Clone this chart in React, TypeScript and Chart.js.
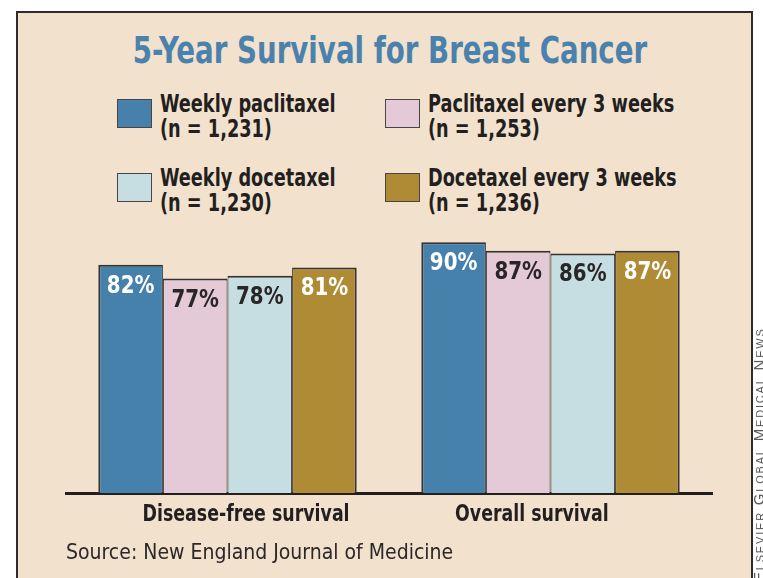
import React, { useEffect, useRef } from "react";
import { Chart, registerables } from "chart.js";

Chart.register(...registerables);

// ---- data ----
const categories = ["Disease-free survival", "Overall survival"];
const seriesNames = [
  "Weekly paclitaxel",
  "Paclitaxel every 3 weeks",
  "Weekly docetaxel",
  "Docetaxel every 3 weeks",
];
const seriesCounts = ["(n = 1,231)", "(n = 1,253)", "(n = 1,230)", "(n = 1,236)"];
const weeklyPaclitaxel = [82, 90];
const paclitaxelEvery3Weeks = [77, 87];
const weeklyDocetaxel = [78, 86];
const docetaxelEvery3Weeks = [81, 87];
const titleText = "5-Year Survival for Breast Cancer";
const sourceText = "Source: New England Journal of Medicine";
const creditText = "Elsevier Global Medical News";

// ---- style ----
const seriesColors = ["#4581ab", "#e4c9d7", "#c6dee1", "#b08b36"];
const valueLabelColors = ["#ffffff", "#2a2526", "#2a2526", "#ffffff"];
const FONT = "'DejaVu Sans Condensed', 'Liberation Sans Narrow', sans-serif";
const INK = "#231f20";

function fillCondensed(ctx: CanvasRenderingContext2D, text: string, x: number, y: number, squeeze: number) {
  const w = ctx.measureText(text).width;
  ctx.fillText(text, x, y, w * squeeze);
}

const valueLabelPlugin = {
  id: "valueLabels",
  afterDatasetsDraw(chart: any) {
    const { ctx } = chart;
    ctx.save();
    ctx.font = `bold 24px ${FONT}`;
    ctx.textAlign = "center";
    ctx.textBaseline = "alphabetic";
    chart.data.datasets.forEach((ds: any, di: number) => {
      const meta = chart.getDatasetMeta(di);
      meta.data.forEach((el: any, i: number) => {
        ctx.fillStyle = valueLabelColors[di];
        fillCondensed(ctx, ds.data[i] + "%", el.x, el.y + 28, 0.92);
      });
    });
    ctx.restore();
  },
};

const categoryLabelPlugin = {
  id: "categoryLabels",
  afterDraw(chart: any) {
    const { ctx, chartArea } = chart;
    const x = chart.scales.x;
    const mid = (chartArea.left + chartArea.right) / 2;
    ctx.save();
    ctx.font = `bold 23px ${FONT}`;
    ctx.fillStyle = INK;
    ctx.textAlign = "center";
    ctx.textBaseline = "alphabetic";
    (chart.data.labels as string[]).forEach((lab, i) => {
      const px = x.getPixelForValue(i);
      const cx = px + (mid - px) * 0.115;
      fillCondensed(ctx, lab, cx, chartArea.bottom + 28, 0.84);
    });
    ctx.restore();
  },
};

export default function App() {
  const canvasRef = useRef<HTMLCanvasElement | null>(null);

  useEffect(() => {
    if (!canvasRef.current) return;
    const seriesData = [weeklyPaclitaxel, paclitaxelEvery3Weeks, weeklyDocetaxel, docetaxelEvery3Weeks];
    const chart = new Chart(canvasRef.current, {
      type: "bar",
      data: {
        labels: categories,
        datasets: seriesNames.map((name, i) => ({
          label: name,
          data: seriesData[i],
          backgroundColor: seriesColors[i],
          borderColor: "#363132",
          borderWidth: {
            top: 2,
            left: i === 0 ? 2 : 1,
            right: i === seriesNames.length - 1 ? 2 : 1,
            bottom: 0,
          },
          borderSkipped: false,
          categoryPercentage: 0.8,
          barPercentage: 1.0,
        })),
      },
      options: {
        animation: false,
        responsive: false,
        maintainAspectRatio: false,
        layout: { padding: { left: 66, right: 51, top: 214.5, bottom: 85 } },
        plugins: {
          legend: { display: false },
          title: { display: false },
          tooltip: { enabled: false },
        },
        scales: {
          x: {
            display: true,
            grid: { display: false, drawTicks: false },
            ticks: { display: false },
            border: { display: true, color: "#231f20", width: 3 },
          },
          y: {
            display: false,
            min: 0,
            max: 100,
          },
        },
      },
      plugins: [valueLabelPlugin, categoryLabelPlugin],
    });
    return () => chart.destroy();
  }, []);

  const legendCols = [
    { swatch: 117, text: 160 },
    { swatch: 385, text: 428 },
  ];
  const legendRows = [
    { swatch: 99, text: 92 },
    { swatch: 173, text: 166 },
  ];

  return (
    <div
      style={{
        position: "absolute",
        left: 0,
        top: 0,
        width: 763,
        height: 578,
        overflow: "hidden",
        background: "#ffffff",
        fontFamily: FONT,
      }}
    >
      <div
        style={{
          position: "absolute",
          left: 16,
          top: 11,
          width: 733,
          height: 640,
          background: "#f2e2cd",
          border: "2px solid #2f2b2b",
          borderBottom: "none",
        }}
      />
      <div
        style={{
          position: "absolute",
          left: 0,
          top: 31,
          width: 780,
          textAlign: "center",
          fontSize: 38,
          lineHeight: "38px",
          fontWeight: "bold",
          color: "#4a82ad",
          whiteSpace: "nowrap",
          transform: "scaleX(0.81)",
          transformOrigin: "390px 0",
        }}
      >
        {titleText}
      </div>
      {seriesNames.map((name, i) => {
        const col = legendCols[i % 2];
        const row = legendRows[Math.floor(i / 2)];
        return (
          <React.Fragment key={name}>
            <div
              style={{
                position: "absolute",
                left: col.swatch,
                top: row.swatch,
                width: 33,
                height: 27,
                background: seriesColors[i],
                border: "1.5px solid #4a4445",
              }}
            />
            <div
              style={{
                position: "absolute",
                left: col.text,
                top: row.text,
                fontSize: 24,
                lineHeight: "25px",
                fontWeight: "bold",
                color: INK,
                whiteSpace: "nowrap",
                transform: "scaleX(0.82)",
                transformOrigin: "0 0",
              }}
            >
              <div>{name}</div>
              <div>{seriesCounts[i]}</div>
            </div>
          </React.Fragment>
        );
      })}
      <canvas
        ref={canvasRef}
        width={763}
        height={578}
        style={{ position: "absolute", left: 0, top: 0, width: 763, height: 578 }}
      />
      <div
        style={{
          position: "absolute",
          left: 66,
          top: 541,
          fontSize: 22,
          lineHeight: "22px",
          color: "#2b2728",
          whiteSpace: "nowrap",
          transform: "scaleX(0.955)",
          transformOrigin: "0 0",
        }}
      >
        {sourceText}
      </div>
      <div
        style={{
          position: "absolute",
          left: 752,
          top: 582,
          transform: "rotate(-90deg)",
          transformOrigin: "0 0",
          fontFamily: "'Liberation Sans', sans-serif",
          fontSize: 15,
          lineHeight: "14px",
          fontVariant: "small-caps",
          letterSpacing: "1.8px",
          color: "#5a5a5a",
          whiteSpace: "nowrap",
        }}
      >
        {creditText}
      </div>
    </div>
  );
}
